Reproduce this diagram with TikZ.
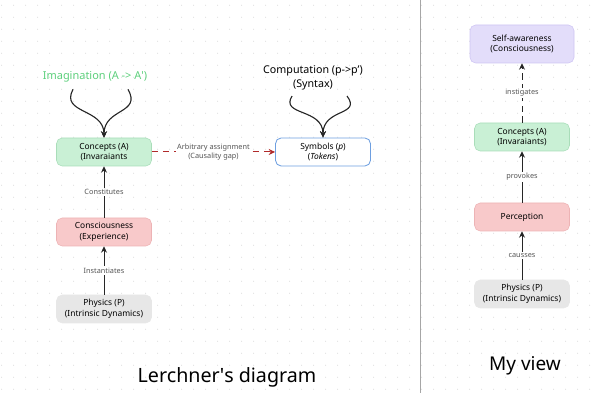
\documentclass[tikz,border=0pt]{standalone}
\usepackage{fontspec}
\setmainfont{Noto Sans}
\usepackage{tikz}
\usetikzlibrary{shapes, arrows.meta, positioning}
\definecolor{greenfill}{HTML}{C9F0D5}
\definecolor{greenline}{HTML}{A9DDB9}
\definecolor{pinkfill}{HTML}{F8C9CA}
\definecolor{pinkline}{HTML}{EDB3B5}
\definecolor{grayfill}{HTML}{E7E7E7}
\definecolor{lavfill}{HTML}{E3DDFA}
\definecolor{lavline}{HTML}{CEC5F3}
\definecolor{symline}{HTML}{6E9FE0}
\definecolor{imaggreen}{HTML}{5CCF7B}
\definecolor{gapred}{HTML}{B02A2A}
\definecolor{labelgray}{HTML}{555555}
\tikzstyle{box} = [rectangle, rounded corners=4pt, minimum width=2.375cm, minimum height=0.7cm, align=center, font=\fontsize{6}{7.6}\selectfont, inner sep=1pt]
\tikzstyle{concept} = [box, fill=greenfill, draw=greenline]
\tikzstyle{mind} = [box, fill=pinkfill, draw=pinkline]
\tikzstyle{physics} = [box, fill=grayfill, draw=grayfill]
\tikzstyle{aware} = [box, fill=lavfill, draw=lavline, minimum width=2.6cm, minimum height=0.95cm]
\tikzstyle{symbol} = [box, fill=white, draw=symline, line width=0.6pt]
\tikzstyle{edgelabel} = [fill=white, inner sep=1pt, align=center, text=labelgray, font=\fontsize{5.2}{6.6}\selectfont]
\tikzstyle{link} = [draw=black!85, line width=0.7pt, -{Stealth[length=1.6mm, width=1.5mm]}]
\tikzstyle{curve} = [draw=black!85, line width=0.8pt, -{Stealth[length=1.6mm, width=1.5mm]}]

\begin{document}
\begin{tikzpicture}[node distance=2cm]
\useasboundingbox (0,0) rectangle (15,10);
% dotted background
\foreach \i in {0,...,49} {
  \foreach \j in {0,...,32} {
    \fill[gray!35] (0.04+0.3*\i, 9.87-0.3*\j) circle (0.012);
  }
}
\draw[gray!70, line width=0.6pt] (10.5,10) -- (10.5,0.18);

% Lerchner's diagram
\node (conceptsL) [concept] at (2.6,6.2) {Concepts (A)\\(Invaraiants};
\node (conscL) [mind, below of=conceptsL] {Consciousness\\(Experience)};
\node (physL) [physics, below of=conscL, yshift=0.075cm] {Physics (P)\\(Intrinsic Dynamics)};
\node (symbols) [symbol, right of=conceptsL, xshift=3.475cm] {Symbols (\textit{p})\\(\textit{Tokens})};
\node (imag) [text=imaggreen, font=\fontsize{7.8}{9}\selectfont, above of=conceptsL, xshift=-0.225cm, yshift=-0.125cm] {Imagination (A -> A\textquotesingle)};
\node (comput) [align=center, font=\fontsize{7.6}{10}\selectfont, above of=symbols, xshift=-0.25cm, yshift=-0.15cm] {Computation (p->p')\\(Syntax)};
\node (lerchner) [font=\fontsize{14}{16}\selectfont] at (5.675,0.575) {Lerchner\textquotesingle s diagram};

\draw[link] (physL) -- node[edgelabel] {Instantiates} (conscL);
\draw[link] (conscL) -- node[edgelabel] {Constitutes} (conceptsL);
\draw[draw=gapred, line width=0.7pt, dash pattern=on 1.6mm off 1.2mm, -{Stealth[length=1.6mm, width=1.5mm]}] (conceptsL) -- node[edgelabel] {Arbitrary assignment\\(Causality gap)} (symbols);
\draw[curve] ([xshift=-0.55cm, yshift=-0.05cm]imag.south) .. controls (1.5,7.15) and (2.6,7.3) .. (conceptsL.north);
\draw[curve] ([xshift=0.825cm, yshift=-0.05cm]imag.south) .. controls (3.55,7.15) and (2.6,7.3) .. (conceptsL.north);
\draw[curve] ([xshift=-0.525cm, yshift=-0.02cm]comput.south) .. controls (7.0,7.1) and (8.075,7.3) .. (symbols.north);
\draw[curve] ([xshift=0.85cm, yshift=-0.02cm]comput.south) .. controls (9.05,7.1) and (8.075,7.3) .. (symbols.north);

% My view
\node (selfR) [aware] at (13.05,8.9) {Self-awareness\\(Consciousness)};
\node (conceptsR) [concept, below of=selfR, yshift=-0.325cm] {Concepts (A)\\(Invaraiants)};
\node (percepR) [mind, below of=conceptsR] {Perception};
\node (physR) [physics, below of=percepR, yshift=0.075cm] {Physics (P)\\(Intrinsic Dynamics)};
\node (myview) [font=\fontsize{13.5}{16}\selectfont] at (13.125,0.85) {My view};

\draw[link] (physR) -- node[edgelabel] {causses} (percepR);
\draw[link] (percepR) -- node[edgelabel] {provokes} (conceptsR);
\draw[link, dash pattern=on 1.6mm off 1.1mm] (conceptsR) -- node[edgelabel] {instigates} (selfR);
\end{tikzpicture}
\end{document}
